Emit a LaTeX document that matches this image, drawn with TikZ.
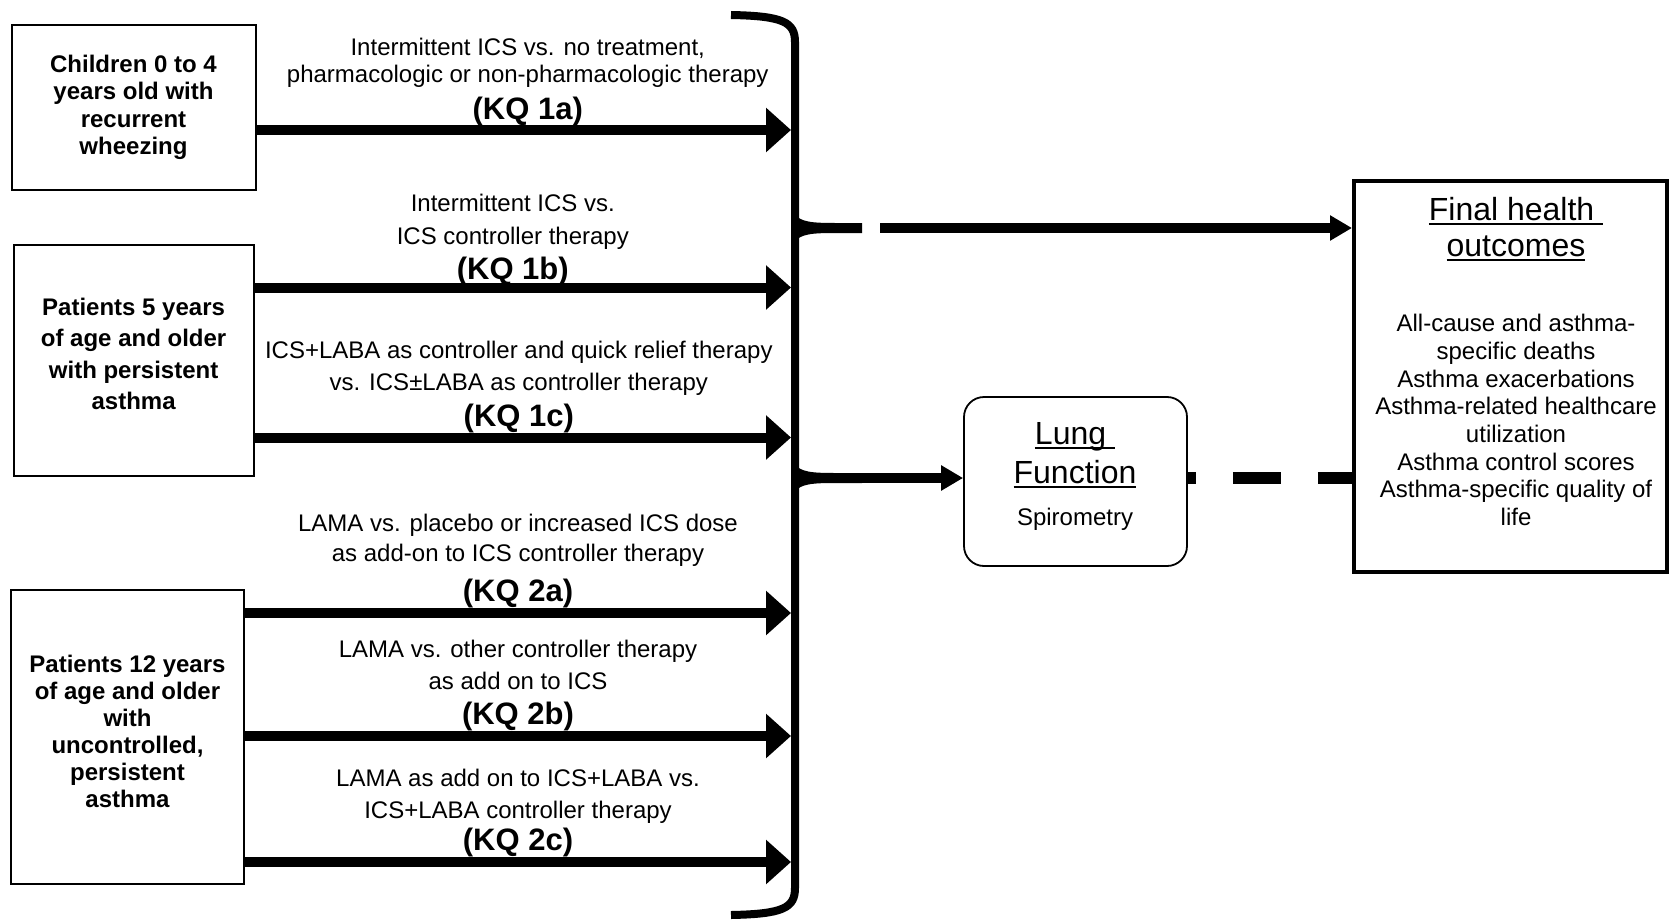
\documentclass[tikz,border=0pt]{standalone}
\usepackage{fontspec}
\setmainfont{Liberation Sans}
\usetikzlibrary{positioning}
\usetikzlibrary{arrows.meta}

\newcommand{\hdul}[1]{\setbox0\hbox{#1}\rlap{\rule[-2pt]{\wd0}{1pt}}\box0}
\newcommand{\kq}[1]{{\bfseries\fontsize{15.5}{16}\selectfont #1}}

\begin{document}
\begin{tikzpicture}[
    x=0.5pt, y=-0.5pt,
    popbox/.style={rectangle, draw, line width=1pt},
    poptext/.style={inner sep=0pt, align=center, font=\bfseries\fontsize{12}{13.7}\selectfont},
    lungbox/.style={rectangle, draw, line width=0.9pt, rounded corners=10pt, minimum width=111.5pt, minimum height=84.5pt},
    outbox/.style={rectangle, draw, line width=2pt, minimum width=156.5pt, minimum height=195.5pt},
    headtxt/.style={inner sep=0pt, align=center, font=\fontsize{16}{18}\selectfont},
    bodytxt/.style={inner sep=0pt, align=center, font=\fontsize{12}{13.85}\selectfont},
    kqlabel/.style={above=0pt, inner sep=0pt, align=center, font=\fontsize{12}{16}\selectfont},
    kqarrow/.style={-{Triangle[length=12.5pt, width=21.5pt]}, line width=5pt},
    smallarrow/.style={-{Triangle[length=11pt, width=12pt]}, line width=5pt},
    dashlink/.style={line width=5.8pt, dash pattern=on 24pt off 18.5pt, dash phase=20pt},
    brace/.style={line width=4pt}
]
\useasboundingbox (0,0) rectangle (1669,920);

% Populations
\node[popbox, minimum width=122pt, minimum height=82pt] (kids) at (133.5,107.5) {};
\node[poptext] (kidstxt) at (133.5,107.5) {Children 0 to 4\\years old with\\recurrent\\wheezing};
\node[popbox, minimum width=120pt, minimum height=115.5pt] (pat5) at (133.6,360.4) {};
\node[poptext, font=\bfseries\fontsize{12}{15.75}\selectfont] (pat5txt) at (133.6,354) {Patients 5 years\\of age and older\\with persistent\\asthma};
\node[popbox, minimum width=116.5pt, minimum height=147pt] (pat12) at (127.5,737) {};
\node[poptext, font=\bfseries\fontsize{12}{13.5}\selectfont] (pat12txt) at (127.5,731.7) {Patients 12 years\\of age and older\\with\\uncontrolled,\\persistent\\asthma};

% Intermediate and final outcomes
\node[lungbox] (lung) at (1075.5,481.5) {};
\node[headtxt, font=\fontsize{16}{19.5}\selectfont] (lunghd) at (1075,455) {\hdul{Lung\ }\\\hdul{Function}};
\node[bodytxt] (spiro) at (1075,519) {Spirometry};

\node[outbox] (final) at (1510.5,376.5) {};
\node[headtxt] (finalhd) at (1516,229) {\hdul{Final health\ }\\\hdul{outcomes}};
\node[bodytxt] (finallist) at (1516,420) {All-cause and asthma-\\specific deaths\\Asthma exacerbations\\Asthma-related healthcare\\utilization\\Asthma control scores\\Asthma-specific quality of\\life};

% Brace
\draw[brace] (731,15) .. controls (783,16) and (795,22) .. (795,42) -- (795,888) .. controls (795,908) and (783,914) .. (731,915);
\fill (795,214) .. controls (800,222) and (812,223) .. (835,223) -- (862,223) -- (862,233) -- (835,233) .. controls (812,233) and (800,234) .. (795,242) -- cycle;
\fill (795,464) .. controls (800,472) and (812,473) .. (835,473) -- (862,473) -- (862,483) -- (835,483) .. controls (812,483) and (800,484) .. (795,492) -- cycle;

\coordinate (in1a) at (791,130);
\coordinate (in1b) at (791,287.5);
\coordinate (in1c) at (791,437.5);
\coordinate (in2a) at (791,613);
\coordinate (in2b) at (791,736);
\coordinate (in2c) at (791,862);
\coordinate (gap1) at (880,228);
\coordinate (tip2) at (850,478);

% Key question arrows
\draw[kqarrow] (kids.east |- in1a) -- node[kqlabel, above=-0.5pt, xshift=2pt] (l1a) {Intermittent ICS vs. no treatment,\\[-2.7pt]pharmacologic or non-pharmacologic therapy\\[2.5pt]\kq{(KQ 1a)}} (in1a);
\draw[kqarrow] (pat5.east |- in1b) -- node[kqlabel, above=-1.5pt, xshift=-5pt] (l1b) {Intermittent ICS vs.\\[0.5pt]ICS controller therapy\\[1.5pt]\kq{(KQ 1b)}} (in1b);
\draw[kqarrow] (pat5.east |- in1c) -- node[kqlabel, xshift=-2pt] (l1c) {ICS+LABA as controller and quick relief therapy\\vs. ICS±LABA as controller therapy\\[2pt]\kq{(KQ 1c)}} (in1c);
\draw[kqarrow] (pat12.east |- in2a) -- node[kqlabel] (l2a) {LAMA vs. placebo or increased ICS dose\\[-1pt]as add-on to ICS controller therapy\\[4pt]\kq{(KQ 2a)}} (in2a);
\draw[kqarrow] (pat12.east |- in2b) -- node[kqlabel] (l2b) {LAMA vs. other controller therapy\\as add on to ICS\\[1.5pt]\kq{(KQ 2b)}} (in2b);
\draw[kqarrow] (pat12.east |- in2c) -- node[kqlabel] (l2c) {LAMA as add on to ICS+LABA vs.\\ICS+LABA controller therapy\\[0pt]\kq{(KQ 2c)}} (in2c);

% Outcome links
\draw[smallarrow] (gap1) -- (final.west |- gap1);
\draw[smallarrow] (tip2) -- (lung.west |- tip2);
\draw[dashlink] (lung.east |- tip2) -- (final.west |- tip2);

\end{tikzpicture}
\end{document}
